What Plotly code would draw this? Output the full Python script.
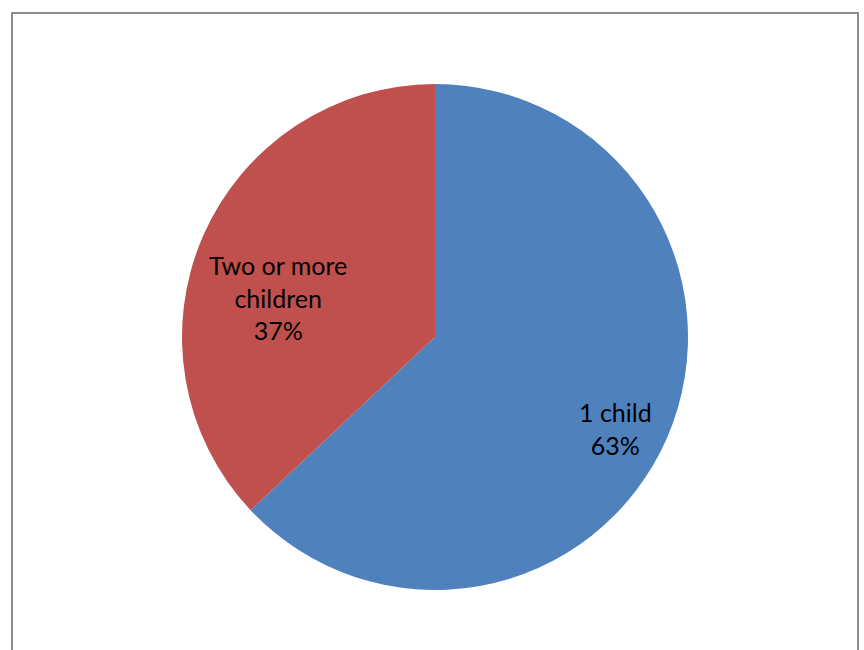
import math
import plotly.graph_objects as go

categories = ["1 child", "Two or more children"]
label_lines = ["1 child", "Two or more<br>children"]
values = [63, 37]
colors = ["#4F81BD", "#C0504D"]

W, H = 864, 650
cx, cy, r = 435, 337, 253
# label placement (angle offset in degrees, radius fraction) tuned to the reference
label_place = [(3.6, 0.80), (-9.4, 0.64)]

fig = go.Figure(go.Pie(
    labels=categories,
    values=values,
    marker=dict(colors=colors, line=dict(width=0)),
    sort=False,
    direction="clockwise",
    rotation=0,
    textinfo="none",
    hoverinfo="label+percent",
    domain=dict(x=[(cx - r) / W, (cx + r) / W], y=[1 - (cy + r) / H, 1 - (cy - r) / H]),
    showlegend=False,
))

total = sum(values)
annotations = []
start = 0.0
for lab, v, (da, fr) in zip(label_lines, values, label_place):
    frac = v / total
    mid = (start + frac / 2) * 360 + da
    start += frac
    px = cx + fr * r * math.sin(math.radians(mid))
    py = cy - fr * r * math.cos(math.radians(mid))
    annotations.append(dict(
        x=px / W, y=1 - py / H, xref="paper", yref="paper",
        text=f"{lab}<br>{round(frac * 100)}%", showarrow=False,
        xanchor="center", yanchor="middle", align="center",
        font=dict(family="Lato, Carlito, Calibri, sans-serif", size=25, color="black"),
    ))

fig.update_layout(
    width=W, height=H,
    margin=dict(l=0, r=0, t=0, b=0),
    paper_bgcolor="white",
    plot_bgcolor="white",
    annotations=annotations,
    shapes=[dict(type="rect", xref="paper", yref="paper",
                 x0=12 / W, x1=858 / W, y0=-0.05, y1=1 - 13 / H,
                 line=dict(color="#8C8C8C", width=2), fillcolor="rgba(0,0,0,0)", layer="below")],
)

fig.write_html("out.html")
